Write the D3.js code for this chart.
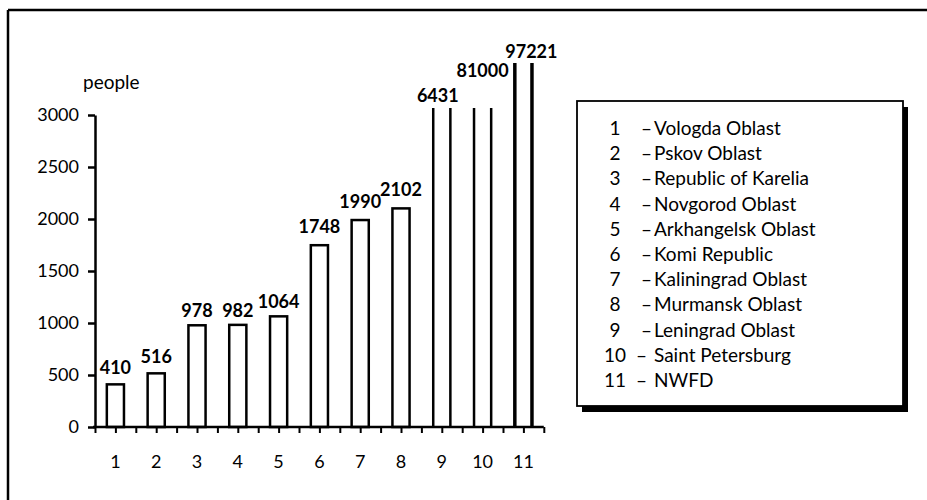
<!DOCTYPE html>
<html>
<head>
<meta charset="utf-8">
<script src="https://cdn.jsdelivr.net/npm/d3@7"></script>
<style>
  html, body { margin: 0; padding: 0; background: #fff; }
  svg { display: block; font-family: Lato, "Open Sans", sans-serif; }
</style>
</head>
<body>
<svg id="chart" width="927" height="500"></svg>
<script>
// Number of people per region (North-Western Federal District)
const categories = ["1", "2", "3", "4", "5", "6", "7", "8", "9", "10", "11"];
const values = [410, 516, 978, 982, 1064, 1748, 1990, 2102, 6431, 81000, 97221];
const regionNames = [
  "Vologda Oblast", "Pskov Oblast", "Republic of Karelia", "Novgorod Oblast",
  "Arkhangelsk Oblast", "Komi Republic", "Kaliningrad Oblast", "Murmansk Oblast",
  "Leningrad Oblast", "Saint Petersburg", "NWFD"
];
const yTicks = [0, 500, 1000, 1500, 2000, 2500, 3000];
const yUnit = "people";

const svg = d3.select("#chart");

// Outer frame (top and left edges)
svg.append("line").attr("x1", 8).attr("y1", 10).attr("x2", 927).attr("y2", 10)
  .attr("stroke", "#000").attr("stroke-width", 2.5);
svg.append("line").attr("x1", 8).attr("y1", 10).attr("x2", 8).attr("y2", 500)
  .attr("stroke", "#000").attr("stroke-width", 2.5);

const x0 = 95, x1 = 543.8, yBase = 427, yTop = 115;
const yMax = 3000;

const x = d3.scaleBand().domain(categories).range([x0, x1]).padding(0);
const xLin = d3.scaleLinear().domain([0, categories.length]).range([x0, x1]);
const y = d3.scaleLinear().domain([0, yMax]).range([yBase, yTop]);

const bw = x.bandwidth();
const barW = bw * 0.42;

// Bars: values beyond the axis maximum are drawn as open-topped columns
const bars = svg.append("g");
values.forEach((v, i) => {
  const c = categories[i];
  const left = x(c) + (bw - barW) / 2;
  const right = left + barW;
  if (v <= yMax) {
    bars.append("rect")
      .attr("x", left).attr("y", y(v))
      .attr("width", barW).attr("height", yBase - y(v))
      .attr("fill", "#fff").attr("stroke", "#000").attr("stroke-width", 2.5);
  } else {
    const extra = i === values.length - 1 ? 52 : 7;
    const top = y(yMax) - extra;
    [left, right].forEach(px => {
      bars.append("line")
        .attr("x1", px).attr("x2", px).attr("y1", yBase).attr("y2", top)
        .attr("stroke", "#000").attr("stroke-width", i === values.length - 1 ? 3.5 : 2.5);
    });
  }
});

// Value labels
const labelLift = [10, 10, 8, 8, 8, 12, 12, 12, 6, 31, 5];
values.forEach((v, i) => {
  const c = categories[i];
  let top;
  if (v <= yMax) top = y(v);
  else top = y(yMax) - (i === values.length - 1 ? 52 : 7);
  const shift = i === values.length - 1 ? 8 : (i === 8 ? -4 : 0);
  svg.append("text")
    .attr("x", x(c) + bw / 2 + shift)
    .attr("y", top - labelLift[i])
    .attr("text-anchor", "middle")
    .attr("font-size", 18).attr("font-weight", "bold")
    .text(v);
});

// Y axis
const yAxis = d3.axisLeft(y).tickValues(yTicks).tickSize(7).tickSizeOuter(0).tickPadding(9)
  .tickFormat(d3.format("d"));
const gy = svg.append("g").attr("transform", `translate(${x0},0)`).call(yAxis);
gy.select(".domain").attr("stroke-width", 2.5);
gy.selectAll(".tick line").attr("stroke-width", 2.5);
gy.selectAll(".tick text").attr("font-size", 18).attr("font-family", "Lato, sans-serif").attr("fill", "#000");

svg.append("text").attr("x", 83).attr("y", 89).attr("font-size", 19).text(yUnit);

// X axis with ticks at category centres and boundaries
const xTickVals = d3.range(0, categories.length * 2 + 1).map(k => k / 2);
const xAxis = d3.axisBottom(xLin).tickValues(xTickVals).tickSize(6).tickSizeOuter(0)
  .tickFormat("");
const gx = svg.append("g").attr("transform", `translate(0,${yBase})`).call(xAxis);
gx.select(".domain").attr("stroke-width", 2.5).attr("d", `M${x0 - 2},0H${x1}`);
gx.selectAll(".tick line").attr("stroke-width", 2);

svg.append("g").selectAll("text").data(categories).join("text")
  .attr("x", d => x(d) + bw / 2)
  .attr("y", 468)
  .attr("text-anchor", "middle")
  .attr("font-size", 18)
  .text(d => d);

// Legend box with drop shadow
const lg = svg.append("g");
const lx = 577, ly = 101, lw = 326, lh = 305;
lg.append("rect").attr("x", lx + 5).attr("y", ly + 6).attr("width", lw).attr("height", lh)
  .attr("fill", "#000");
lg.append("rect").attr("x", lx).attr("y", ly).attr("width", lw).attr("height", lh)
  .attr("fill", "#fff").attr("stroke", "#000").attr("stroke-width", 1.8);

regionNames.forEach((name, i) => {
  const cy = 135 + i * 25.2;
  const num = categories[i];
  lg.append("text").attr("x", 615).attr("y", cy).attr("text-anchor", "middle")
    .attr("font-size", 19).text(num);
  lg.append("text").attr("x", num.length > 1 ? 636 : 641).attr("y", cy)
    .attr("font-size", 19).text("–");
  lg.append("text").attr("x", 654).attr("y", cy)
    .attr("font-size", 19).text(name);
});
</script>
</body>
</html>
